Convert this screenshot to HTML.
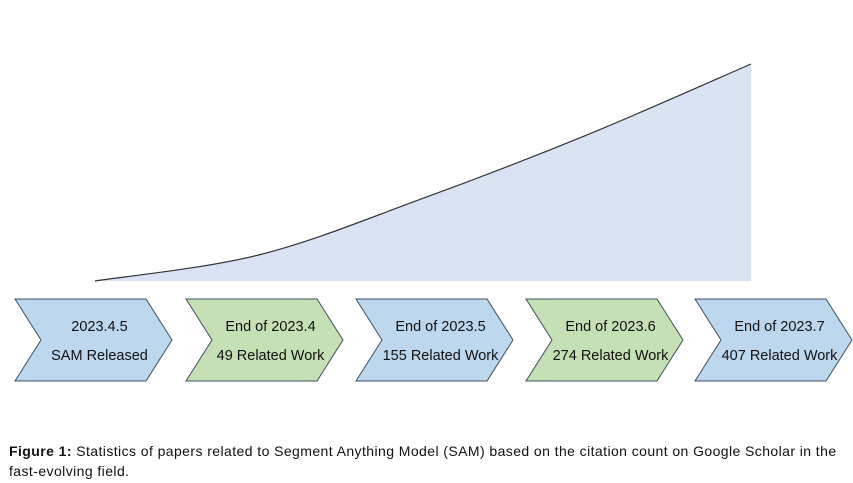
<!DOCTYPE html>
<html><head><meta charset="utf-8"><style>
body{margin:0;background:#fff;width:853px;height:483px;overflow:hidden;font-family:"Liberation Sans",sans-serif}
#cap{position:absolute;left:9px;top:441px;font-size:14px;line-height:20px;color:#111;letter-spacing:0.42px;white-space:nowrap}
</style></head><body>
<svg id="chart" width="853" height="430" style="position:absolute;left:0;top:0"></svg>
<div id="cap"><b>Figure 1:</b> Statistics of papers related to Segment Anything Model (SAM) based on the citation count on Google Scholar in the<br>fast-evolving field.</div>
<script>
const categories=["2023.4.5","End of 2023.4","End of 2023.5","End of 2023.6","End of 2023.7"];
const subLabels=["SAM Released","49 Related Work","155 Related Work","274 Related Work","407 Related Work"];
const counts=[0,49,155,274,407];
const fills=["#bdd7ee","#c5e0b4","#bdd7ee","#c5e0b4","#bdd7ee"];
(function(){
const NS="http://www.w3.org/2000/svg";
const svg=document.getElementById('chart');
const x0=95,x1=751,yBase=281,yTop=64,maxV=407;
const xs=i=>x0+i*(x1-x0)/(counts.length-1);
const ys=v=>yBase-(v/maxV)*(yBase-yTop);
const pts=counts.map((v,i)=>[xs(i),ys(v)]);
let d=`M${pts[0][0]},${pts[0][1]}`;
for(let i=0;i<pts.length-1;i++){
 const p0=pts[Math.max(0,i-1)],p1=pts[i],p2=pts[i+1],p3=pts[Math.min(pts.length-1,i+2)];
 const c1=[p1[0]+(p2[0]-p0[0])/6,p1[1]+(p2[1]-p0[1])/6],c2=[p2[0]-(p3[0]-p1[0])/6,p2[1]-(p3[1]-p1[1])/6];
 d+=` C${c1[0]},${c1[1]} ${c2[0]},${c2[1]} ${p2[0]},${p2[1]}`;
}
const area=document.createElementNS(NS,'path');
area.setAttribute('d',d+` L${x1},${yBase} L${x0},${yBase} Z`);
area.setAttribute('fill','#dae3f3');


svg.appendChild(area);
const line=document.createElementNS(NS,'path');
line.setAttribute('d',d);line.setAttribute('fill','none');line.setAttribute('stroke','#333');line.setAttribute('stroke-width','1.2');


svg.appendChild(line);
const starts=[15,186,356,526,695],w=157,notch=26,yT=299,yB=381;
categories.forEach((c,i)=>{
 const g=document.createElementNS(NS,'g');
 
 
 const l=starts[i],mid=(yT+yB)/2;
 const p=document.createElementNS(NS,'polygon');
 p.setAttribute('points',`${l},${yT} ${l+w-notch},${yT} ${l+w},${mid} ${l+w-notch},${yB} ${l},${yB} ${l+notch},${mid}`);
 p.setAttribute('fill',fills[i]);p.setAttribute('stroke','#3f4f60');p.setAttribute('stroke-width','1');
 g.appendChild(p);
 [[c,331],[subLabels[i],360]].forEach(([t,y])=>{
  const tx=document.createElementNS(NS,'text');
  tx.setAttribute('x',l+w/2+6);tx.setAttribute('y',y);tx.setAttribute('text-anchor','middle');
  tx.setAttribute('font-size','14.5');tx.setAttribute('fill','#111');tx.setAttribute('font-family','Liberation Sans, sans-serif');
  
  
  tx.textContent=t;g.appendChild(tx);
 });
 svg.appendChild(g);
});
})();
</script>
</body></html>
